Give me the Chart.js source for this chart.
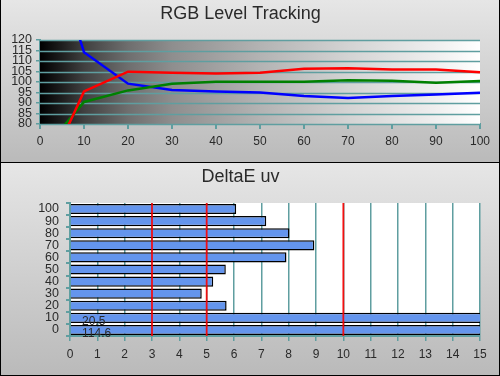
<!DOCTYPE html>
<html>
<head>
<meta charset="utf-8">
<script src="https://cdn.jsdelivr.net/npm/chart.js@4/dist/chart.umd.min.js"></script>
<style>
  html, body { margin: 0; padding: 0; }
  body { width: 500px; height: 376px; background: #000; position: relative; overflow: hidden; }
  .panel { position: absolute; left: 1px; width: 498px; background: linear-gradient(to bottom, #e6e6e6, #bababa); }
  #p1 { top: 0; height: 162px; }
  #p2 { top: 163px; height: 212px; }
  canvas { display: block; }
</style>
</head>
<body>
<div class="panel" id="p1"><canvas id="c1" width="498" height="162"></canvas></div>
<div class="panel" id="p2"><canvas id="c2" width="498" height="212"></canvas></div>
<script>
// ---- data ----
const levels = ['0', '10', '20', '30', '40', '50', '60', '70', '80', '90', '100'];
const redLevels   = [50, 95.5, 104.9, 104.4, 104.1, 104.4, 106.3, 106.6, 106.0, 105.9, 104.6];
const greenLevels = [65.5, 90.5, 96.0, 99.2, 100.1, 100.1, 100.1, 100.8, 100.6, 99.7, 100.5];
const blueLevels  = [180, 114.2, 99.2, 96.2, 95.5, 95.0, 93.3, 92.4, 93.3, 94.0, 94.9];
const yTicksTop = [80, 85, 90, 95, 100, 105, 110, 115, 120];

const deltaCats = ['0', '10', '20', '30', '40', '50', '60', '70', '80', '90', '100'];
const deltaValues = [114.6, 20.5, 5.73, 4.82, 5.24, 5.7, 7.92, 8.94, 8.03, 7.18, 6.08];
const deltaLimits = [3, 5, 10];
const xTicksBottom = [0, 1, 2, 3, 4, 5, 6, 7, 8, 9, 10, 11, 12, 13, 14, 15];

// ---- styles ----
const TEAL = '#5f9ea0';
const TXT = '#2a2a2a';
const FONT = "'Liberation Sans', Arial, sans-serif";
Chart.defaults.font.family = FONT;
Chart.defaults.color = TXT;

const titleCfg = (text) => ({
  display: true, text: text, color: TXT,
  font: { size: 18, weight: 'normal', family: FONT },
  padding: { top: 3, bottom: 15.4 }
});

const gradientBg = {
  id: 'gradientBg',
  beforeDatasetsDraw(chart) {
    const a = chart.chartArea, ctx = chart.ctx;
    const g = ctx.createLinearGradient(a.left, 0, a.right, 0);
    g.addColorStop(0, '#000000');
    g.addColorStop(0.05, '#1e1e1e');
    g.addColorStop(0.1, '#404040');
    g.addColorStop(0.2, '#6e6e6e');
    g.addColorStop(0.3, '#8e8e8e');
    g.addColorStop(0.5, '#b3b3b3');
    g.addColorStop(0.7, '#d3d3d3');
    g.addColorStop(0.9, '#efefef');
    g.addColorStop(1, '#ffffff');
    ctx.save();
    ctx.fillStyle = g;
    ctx.fillRect(a.left, a.top, a.right - a.left, a.bottom - a.top);
    // horizontal gridlines over the gradient, one per y tick value
    const y = chart.scales.y;
    ctx.strokeStyle = TEAL; ctx.lineWidth = 1.5;
    yTicksTop.forEach(v => {
      const py = Math.round(y.getPixelForValue(v)) + 0.5;
      ctx.beginPath(); ctx.moveTo(a.left, py); ctx.lineTo(a.right, py); ctx.stroke();
    });
    ctx.restore();
  }
};

new Chart(document.getElementById('c1'), {
  type: 'line',
  data: {
    labels: levels,
    datasets: [
      { data: redLevels, borderColor: '#ff0000', borderWidth: 2.5, pointRadius: 0, tension: 0 },
      { data: greenLevels, borderColor: '#008000', borderWidth: 2.5, pointRadius: 0, tension: 0 },
      { data: blueLevels, borderColor: '#0000ff', borderWidth: 2.5, pointRadius: 0, tension: 0 }
    ]
  },
  options: {
    responsive: false, animation: false, devicePixelRatio: 1,
    layout: { padding: { top: 0, right: 19, bottom: 0, left: 0 } },
    plugins: { legend: { display: false }, tooltip: { enabled: false }, title: titleCfg('RGB Level Tracking') },
    scales: {
      x: {
        type: 'category', offset: false,
        grid: { drawOnChartArea: false, color: TEAL, lineWidth: 2, tickLength: 5 },
        border: { color: TEAL, width: 2 },
        ticks: { color: TXT, font: { size: 12 }, padding: 5, maxRotation: 0, autoSkip: false },
        afterFit(s) { s.height = 38; }
      },
      y: {
        min: 80, max: 120,
        afterBuildTicks(s) { s.ticks = yTicksTop.map(v => ({ value: v })); },
        grid: { color: TEAL, lineWidth: 1.5, tickLength: 4, drawOnChartArea: false },
        border: { color: TEAL, width: 2 },
        ticks: { color: TXT, font: { size: 12.5, lineHeight: 0.9 }, padding: 4, autoSkip: false },
        afterFit(s) { s.width = 39; }
      }
    }
  },
  plugins: [gradientBg]
});

const whiteBg = {
  id: 'whiteBg',
  beforeDraw(chart) {
    const a = chart.chartArea, ctx = chart.ctx;
    ctx.save(); ctx.fillStyle = '#ffffff';
    ctx.fillRect(a.left, a.top, a.right - a.left, a.bottom - a.top);
    ctx.restore();
  }
};

const limitLines = {
  id: 'limitLines',
  afterDatasetsDraw(chart) {
    const a = chart.chartArea, ctx = chart.ctx, x = chart.scales.x;
    ctx.save();
    ctx.strokeStyle = 'rgba(255,0,0,0.9)'; ctx.lineWidth = 1.8;
    deltaLimits.forEach(v => {
      const px = x.getPixelForValue(v);
      ctx.beginPath(); ctx.moveTo(px, a.top); ctx.lineTo(px, a.bottom); ctx.stroke();
    });
    ctx.restore();
  }
};

const overflowLabels = {
  id: 'overflowLabels',
  afterDraw(chart) {
    const ctx = chart.ctx, x = chart.scales.x, meta = chart.getDatasetMeta(0);
    ctx.save();
    ctx.fillStyle = TXT; ctx.font = '12px ' + FONT;
    ctx.textAlign = 'left'; ctx.textBaseline = 'middle';
    deltaValues.forEach((v, i) => {
      if (v > x.max) {
        const bar = meta.data[i];
        ctx.fillText(v.toFixed(1), chart.chartArea.left + 12, bar.y + 4);
      }
    });
    ctx.restore();
  }
};

new Chart(document.getElementById('c2'), {
  type: 'bar',
  data: {
    labels: deltaCats,
    datasets: [{
      data: deltaValues, backgroundColor: '#6495ed', borderColor: '#000000', borderWidth: 1.5,
      barPercentage: 0.84, categoryPercentage: 1.0
    }]
  },
  options: {
    indexAxis: 'y',
    responsive: false, animation: false, devicePixelRatio: 1,
    layout: { padding: { top: 0, right: 19, bottom: 0, left: 0 } },
    plugins: { legend: { display: false }, tooltip: { enabled: false }, title: titleCfg('DeltaE uv') },
    scales: {
      x: {
        type: 'linear', min: 0, max: 15,
        afterBuildTicks(s) { s.ticks = xTicksBottom.map(v => ({ value: v })); },
        grid: { color: TEAL, lineWidth: 1.5, tickLength: 5 },
        border: { color: TEAL, width: 2 },
        ticks: { color: TXT, font: { size: 12 }, padding: 6 },
        afterFit(s) { s.height = 39; }
      },
      y: {
        type: 'category', reverse: true,
        grid: { offset: true, drawOnChartArea: false, color: TEAL, lineWidth: 2, tickLength: 4 },
        border: { color: TEAL, width: 2 },
        ticks: { color: TXT, font: { size: 12.5 }, padding: 7, autoSkip: false },
        afterFit(s) { s.width = 69; }
      }
    }
  },
  plugins: [whiteBg, limitLines, overflowLabels]
});
</script>
</body>
</html>
